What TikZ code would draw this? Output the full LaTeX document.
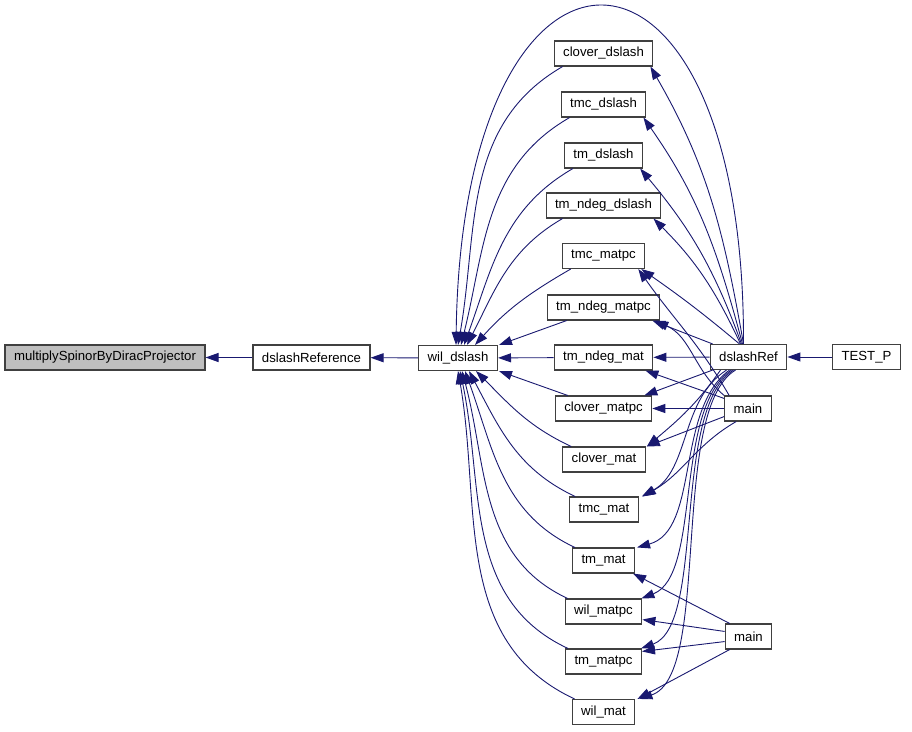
\documentclass[tikz,border=0pt]{standalone}
\usepackage{fontspec}
\setmainfont{Liberation Sans}
\usetikzlibrary{arrows.meta}
\definecolor{callblue}{RGB}{25, 25, 112}
\definecolor{boxline}{RGB}{64, 64, 64}
\definecolor{rootfill}{RGB}{191, 191, 191}
\tikzset{
    fnnode/.style={rectangle, draw=boxline, line width=1.1pt, fill=white, inner xsep=9pt, inner ysep=0pt, minimum height=25pt, font=\fontsize{13.2}{15}\selectfont},
    rootnode/.style={fnnode, fill=rootfill},
    calls/.style={draw=callblue, line width=0.9pt, -{Triangle[length=13pt, width=9pt]}}
}
\begin{document}
\begin{tikzpicture}[x=1pt, y=-1pt]
    \useasboundingbox (0,0) rectangle (912,731);
    % left chain
    \node[rootnode] (multiply) at (105,357.5) {multiplySpinorByDiracProjector};
    \node[fnnode] (dslashReference) at (311.5,357.5) {dslashReference};
    \node[fnnode] (wil_dslash) at (458,358) {wil\_dslash};
    % middle column
    \node[fnnode] (clover_dslash) at (603.5,53.5) {clover\_dslash};
    \node[fnnode] (tmc_dslash) at (603.5,104.5) {tmc\_dslash};
    \node[fnnode] (tm_dslash) at (603.5,155.5) {tm\_dslash};
    \node[fnnode] (tm_ndeg_dslash) at (603.5,205.5) {tm\_ndeg\_dslash};
    \node[fnnode] (tmc_matpc) at (603.5,256) {tmc\_matpc};
    \node[fnnode] (tm_ndeg_matpc) at (603.5,307.5) {tm\_ndeg\_matpc};
    \node[fnnode] (tm_ndeg_mat) at (603.5,357.5) {tm\_ndeg\_mat};
    \node[fnnode] (clover_matpc) at (603.5,408.5) {clover\_matpc};
    \node[fnnode] (clover_mat) at (604,459.5) {clover\_mat};
    \node[fnnode] (tmc_mat) at (604,509.5) {tmc\_mat};
    \node[fnnode] (tm_mat) at (603.5,560.5) {tm\_mat};
    \node[fnnode] (wil_matpc) at (603.5,611.5) {wil\_matpc};
    \node[fnnode] (tm_matpc) at (603.5,661.5) {tm\_matpc};
    \node[fnnode] (wil_mat) at (603.5,712) {wil\_mat};
    % right side
    \node[fnnode] (dslashRef) at (748.5,357) {dslashRef};
    \node[fnnode] (TEST_P) at (866.5,357) {TEST\_P};
    \node[fnnode] (main_a) at (748,408.5) {main};
    \node[fnnode] (main_b) at (748.5,636.5) {main};

    \draw[calls] (dslashReference) -- (multiply);
    \draw[calls] (wil_dslash) -- (dslashReference);
    \draw[calls] (TEST_P) -- (dslashRef);

    % callers of wil_dslash
    \draw[calls] ([xshift=-5pt]dslashRef.north) .. controls (745,-106) and (462,-106) .. ([xshift=-2pt]wil_dslash.north);
    \draw[calls] ([xshift=9pt]clover_dslash.south west) to[out=210, in=80] ([xshift=0pt]wil_dslash.north);
    \draw[calls] ([xshift=9pt]tmc_dslash.south west) to[out=210, in=76] ([xshift=3pt]wil_dslash.north);
    \draw[calls] ([xshift=9pt]tm_dslash.south west) to[out=210, in=70] ([xshift=6pt]wil_dslash.north);
    \draw[calls] ([xshift=17pt]tm_ndeg_dslash.south west) to[out=210, in=63] ([xshift=9pt]wil_dslash.north);
    \draw[calls] ([xshift=9pt]tmc_matpc.south west) to[out=210, in=48] ([xshift=17pt]wil_dslash.north);
    \draw[calls] ([xshift=20pt]tm_ndeg_matpc.south west) -- ([xshift=1pt]wil_dslash.north east);
    \draw[calls] (tm_ndeg_mat) -- (wil_dslash);
    \draw[calls] ([xshift=13pt]clover_matpc.north west) -- ([xshift=1pt]wil_dslash.south east);
    \draw[calls] ([xshift=9pt]clover_mat.north west) to[out=155, in=-45] ([xshift=18pt]wil_dslash.south);
    \draw[calls] ([xshift=6pt]tmc_mat.north west) to[out=155, in=-62] ([xshift=11pt]wil_dslash.south);
    \draw[calls] ([xshift=3pt]tm_mat.north west) to[out=155, in=-70] ([xshift=7pt]wil_dslash.south);
    \draw[calls] ([xshift=3pt]wil_matpc.north west) to[out=155, in=-75] ([xshift=4pt]wil_dslash.south);
    \draw[calls] ([xshift=3pt]tm_matpc.north west) to[out=155, in=-78] ([xshift=2pt]wil_dslash.south);
    \draw[calls] ([xshift=3pt]wil_mat.north west) to[out=155, in=-80] ([xshift=0pt]wil_dslash.south);

    % callers from dslashRef
    \draw[calls] ([xshift=-5pt]dslashRef.north) to[out=100, in=-60] ([xshift=-3pt]clover_dslash.south east);
    \draw[calls] ([xshift=-6pt]dslashRef.north) to[out=105, in=-55] ([xshift=-3pt]tmc_dslash.south east);
    \draw[calls] ([xshift=-7pt]dslashRef.north) to[out=110, in=-50] ([xshift=-3pt]tm_dslash.south east);
    \draw[calls] ([xshift=-8pt]dslashRef.north) to[out=115, in=-45] ([xshift=-8pt]tm_ndeg_dslash.south east);
    \draw[calls] ([xshift=-9pt]dslashRef.north) to[out=140, in=-35] ([xshift=-4pt]tmc_matpc.south east);
    \draw[calls] ([xshift=3pt]dslashRef.north west) -- ([xshift=-8pt]tm_ndeg_matpc.south east);
    \draw[calls] (dslashRef) -- (tm_ndeg_mat);
    \draw[calls] ([xshift=3pt]dslashRef.south west) -- ([xshift=-8pt]clover_matpc.north east);
    \draw[calls] ([xshift=-28pt]dslashRef.south) to[out=-125, in=40] ([xshift=1pt]clover_mat.north east);
    \draw[calls] ([xshift=-22pt]dslashRef.south) .. controls (680,400) and (690,470) .. ([xshift=3pt]tmc_mat.north east);
    \draw[calls] ([xshift=-19pt]dslashRef.south) .. controls (675,410) and (700,530) .. ([xshift=2pt]tm_mat.north east);
    \draw[calls] ([xshift=-17pt]dslashRef.south) .. controls (673,410) and (702,575) .. ([xshift=-1pt]wil_matpc.north east);
    \draw[calls] ([xshift=-15pt]dslashRef.south) .. controls (671,410) and (706,625) .. ([xshift=-1pt]tm_matpc.north east);
    \draw[calls] ([xshift=-13pt]dslashRef.south) .. controls (669,410) and (712,675) .. ([xshift=4pt]wil_mat.north east);

    % callers from the first main
    \draw[calls] ([xshift=5pt]main_a.north west) to[out=120, in=-55] ([xshift=-7pt]tmc_matpc.south east);
    \draw[calls] (main_a.north west) to[out=140, in=-25] ([xshift=-5pt]tm_ndeg_matpc.south east);
    \draw[calls] ([yshift=-3pt]main_a.north west) -- ([xshift=-8pt]tm_ndeg_mat.south east);
    \draw[calls] (main_a) -- (clover_matpc);
    \draw[calls] ([yshift=5pt]main_a.south west) -- ([xshift=1pt]clover_mat.north east);
    \draw[calls] ([xshift=12pt]main_a.south west) to[out=-150, in=30] ([xshift=4pt]tmc_mat.north east);

    % callers from the second main
    \draw[calls] ([xshift=5pt]main_b.north west) -- ([xshift=-2pt]tm_mat.south east);
    \draw[calls] ([yshift=-8pt]main_b.north west) -- ([yshift=5pt]wil_matpc.south east);
    \draw[calls] ([yshift=8pt]main_b.south west) -- ([yshift=-3pt]tm_matpc.north east);
    \draw[calls] ([xshift=5pt]main_b.south west) -- ([xshift=2pt]wil_mat.north east);
\end{tikzpicture}
\end{document}
